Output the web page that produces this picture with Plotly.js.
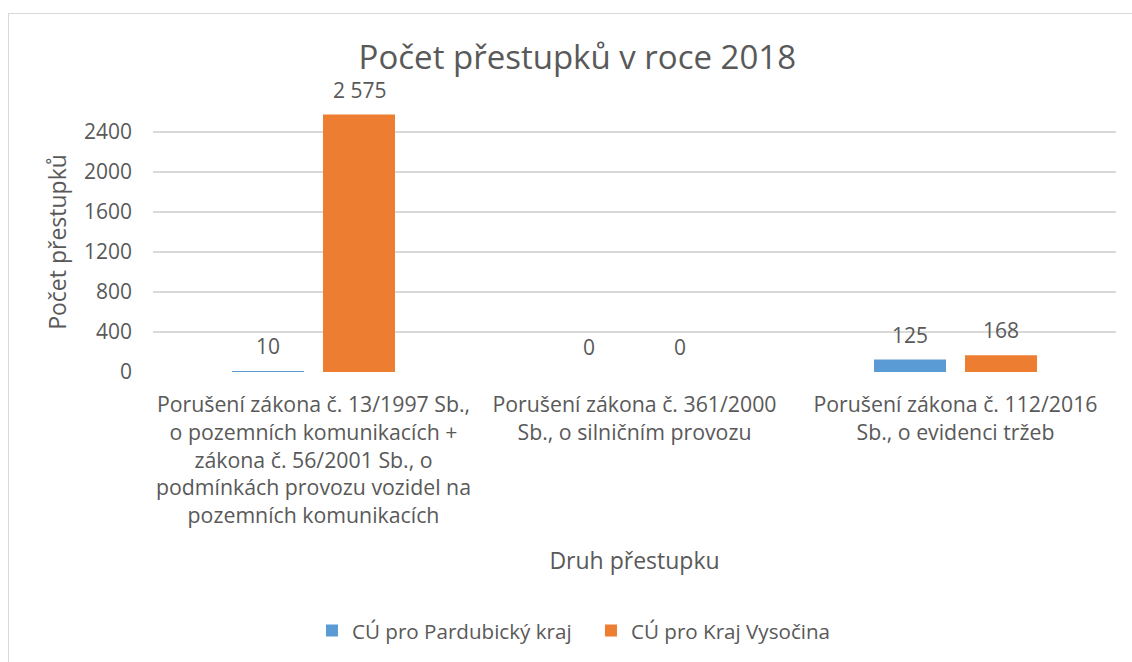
<!DOCTYPE html>
<html>
<head>
<meta charset="utf-8">
<script src="https://cdn.plot.ly/plotly-3.0.1.min.js"></script>
<style>
  html, body { margin: 0; padding: 0; background: #fff; overflow: hidden; }
  #frame { position: absolute; left: 8px; top: 13px; width: 1200px; height: 700px; border: 1px solid #D9D9D9; box-sizing: border-box; }
  #chart { position: absolute; left: 0; top: 0; width: 1132px; height: 662px; }
</style>
</head>
<body>
<div id="frame"></div>
<div id="chart"></div>
<script>
const categories = [
  "Porušení zákona č. 13/1997 Sb.,<br>o pozemních komunikacích +<br>zákona č. 56/2001 Sb., o<br>podmínkách provozu vozidel na<br>pozemních komunikacích",
  "Porušení zákona č. 361/2000<br>Sb., o silničním provozu",
  "Porušení zákona č. 112/2016<br>Sb., o evidenci tržeb"
];
const seriesNames = ["CÚ pro Pardubický kraj", "CÚ pro Kraj Vysočina"];
const pardubickyValues = [10, 0, 125];
const vysocinaValues = [2575, 0, 168];
const yTickValues = [0, 400, 800, 1200, 1600, 2000, 2400];

const textColor = "#595959";
const fontFamily = "'Open Sans', 'Noto Sans', sans-serif";

function fmt(v) {
  return String(v).replace(/\B(?=(\d{3})+(?!\d))/g, " ");
}

const traces = [
  { type: "bar", name: seriesNames[0], x: categories, y: pardubickyValues,
    marker: { color: "#5B9BD5" }, hoverinfo: "none", legend: "legend" },
  { type: "bar", name: seriesNames[1], x: categories, y: vysocinaValues,
    marker: { color: "#ED7D31" }, hoverinfo: "none", legend: "legend2" }
];

const annotations = [];
[pardubickyValues, vysocinaValues].forEach((vals, si) => {
  vals.forEach((v, i) => {
    annotations.push({
      x: categories[i], y: v, xref: "x", yref: "y",
      text: fmt(v), showarrow: false,
      xshift: si === 0 ? -45.5 : 45.5,
      yanchor: "middle", yshift: 25,
      font: { family: fontFamily, size: 21, color: textColor }
    });
  });
});

const legendFont = { family: fontFamily, size: 20.6, color: textColor };

const layout = {
  width: 1132, height: 662,
  margin: { l: 153, r: 16, t: 112, b: 290 },
  paper_bgcolor: "rgba(0,0,0,0)",
  plot_bgcolor: "rgba(0,0,0,0)",
  font: { family: fontFamily, color: textColor },
  title: {
    text: "Počet přestupků v roce 2018",
    x: 0.51, xanchor: "center", y: 0.913, yanchor: "middle",
    font: { family: fontFamily, size: 33, color: textColor }
  },
  barmode: "group",
  bargap: 0.433,
  bargroupgap: 0.209,
  showlegend: true,
  legend: {
    orientation: "h", x: 0.1651, xanchor: "left", y: -0.995, yanchor: "middle",
    font: legendFont, itemclick: false, itemdoubleclick: false
  },
  legend2: {
    orientation: "h", x: 0.4548, xanchor: "left", y: -0.995, yanchor: "middle",
    font: legendFont, itemclick: false, itemdoubleclick: false
  },
  xaxis: {
    type: "category",
    showgrid: false, zeroline: false, showline: false,
    ticks: "",
    tickfont: { family: fontFamily, size: 21.3, color: textColor },
    ticklabelstandoff: 18,
    automargin: false,
    title: {
      text: "Druh přestupku", standoff: 24,
      font: { family: fontFamily, size: 23, color: textColor }
    }
  },
  yaxis: {
    range: [0, 2600],
    tickvals: yTickValues,
    ticktext: yTickValues.map(String),
    showgrid: true, gridcolor: "#D9D9D9", gridwidth: 1.3,
    zeroline: false, showline: false, ticks: "",
    tickfont: { family: fontFamily, size: 21, color: textColor },
    ticklabelstandoff: 20,
    automargin: false,
    title: {
      text: "Počet přestupků", standoff: 10,
      font: { family: fontFamily, size: 23, color: textColor }
    }
  },
  annotations: annotations
};

Plotly.newPlot("chart", traces, layout, { displayModeBar: false, staticPlot: true });
</script>
</body>
</html>
